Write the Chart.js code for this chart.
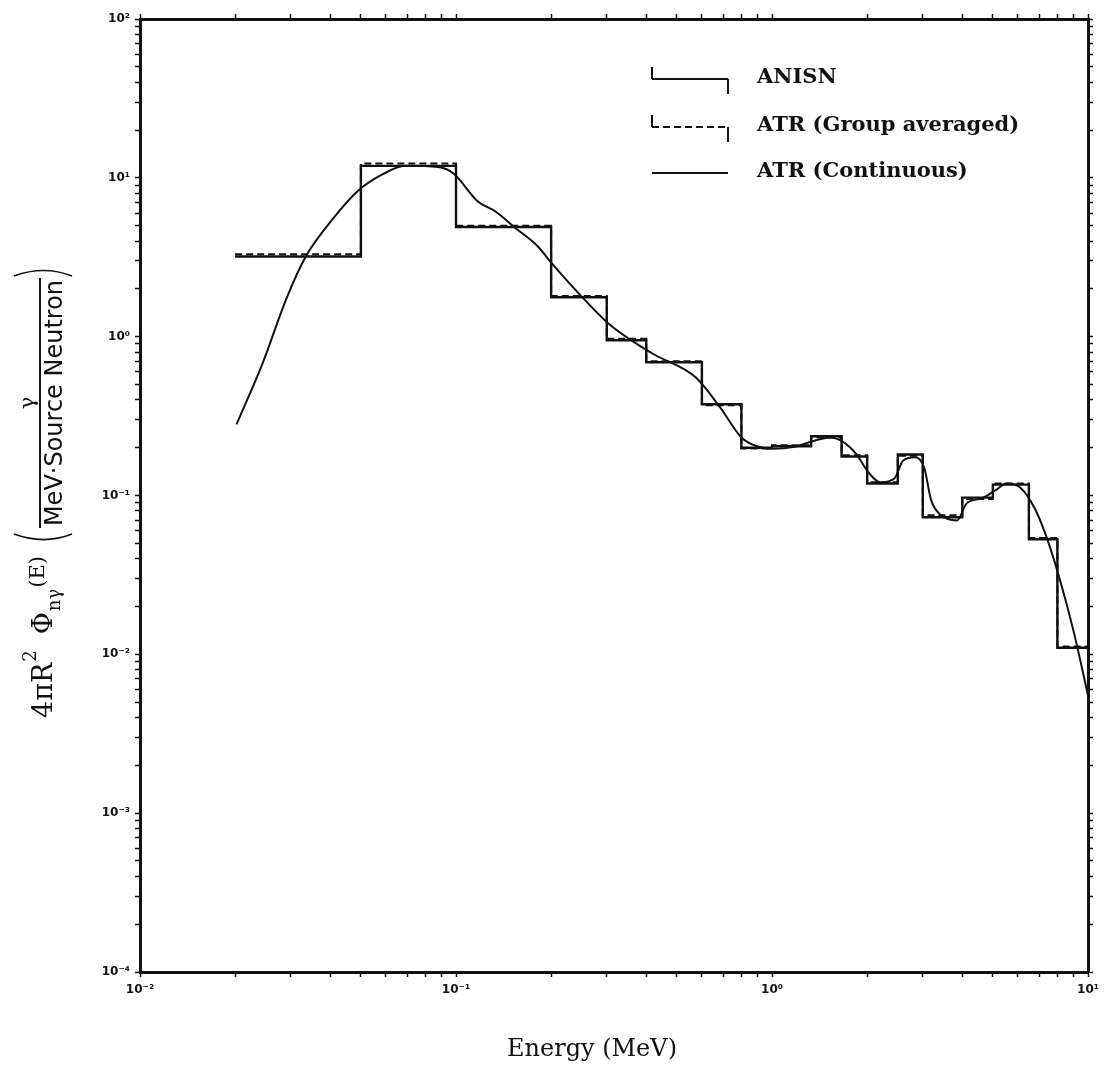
<!DOCTYPE html>
<html>
<head>
<meta charset="utf-8">
<title>Capture gamma spectrum</title>
<script src="https://cdn.jsdelivr.net/npm/chart.js@4.4.1/dist/chart.umd.min.js"></script>
<style>
  html, body { margin: 0; padding: 0; background: #fff; }
  #wrap { width: 1105px; height: 1081px; position: relative; }
</style>
</head>
<body>
<div id="wrap"><canvas id="spectrum"></canvas></div>
<script>
// group structure (MeV) and group fluxes
const groupEdges = [0.02, 0.05, 0.1, 0.2, 0.3, 0.4, 0.6, 0.8, 1.0, 1.33, 1.66, 2.0, 2.5, 3.0, 4.0, 5.0, 6.5, 8.0, 10.0];
const anisnFlux = [3.2, 11.9, 4.9, 1.77, 0.95, 0.69, 0.375, 0.20, 0.204, 0.236, 0.176, 0.119, 0.181, 0.073, 0.097, 0.117, 0.053, 0.011];
const atrGroupFlux = [3.3, 12.3, 5.0, 1.8, 0.97, 0.70, 0.37, 0.198, 0.207, 0.232, 0.179, 0.121, 0.178, 0.075, 0.095, 0.119, 0.054, 0.0112];

// ATR continuous spectrum
const contEnergy = [0.0202, 0.0245, 0.029, 0.0335, 0.0407, 0.0488, 0.0585, 0.0691, 0.0877, 0.098, 0.117, 0.133, 0.153, 0.181, 0.202, 0.249, 0.301, 0.366, 0.422, 0.573, 0.685, 0.80, 0.891, 1.007, 1.18, 1.37, 1.53, 1.65, 1.84, 2.03, 2.20, 2.44, 2.60, 2.84, 3.03, 3.19, 3.43, 3.85, 4.13, 4.61, 5.10, 5.52, 6.11, 6.76, 7.32, 8.11, 9.04, 10.0];
const contFlux = [0.28, 0.69, 1.72, 3.21, 5.5, 8.24, 10.5, 11.9, 11.7, 10.7, 7.13, 6.16, 4.89, 3.72, 2.86, 1.80, 1.23, 0.923, 0.775, 0.555, 0.359, 0.232, 0.205, 0.197, 0.203, 0.222, 0.232, 0.222, 0.184, 0.138, 0.121, 0.128, 0.166, 0.174, 0.150, 0.0931, 0.0750, 0.0697, 0.0892, 0.0959, 0.108, 0.119, 0.112, 0.0841, 0.0577, 0.0305, 0.0135, 0.0055];

// tick labels
const xExponents = [-2, -1, 0, 1];
const xTickLabels = ['10⁻²', '10⁻¹', '10⁰', '10¹'];
const yExponents = [-4, -3, -2, -1, 0, 1, 2];
const yTickLabels = ['10⁻⁴', '10⁻³', '10⁻²', '10⁻¹', '10⁰', '10¹', '10²'];

const ink = '#111';

function stepPoints(edges, vals) {
  return edges.map((e, i) => ({ x: e, y: vals[Math.min(i, vals.length - 1)] }));
}

function logTicks(exps) {
  const out = [];
  for (let e = exps[0]; e < exps[exps.length - 1]; e++) {
    for (let m = 1; m <= 9; m++) out.push({ value: m * Math.pow(10, e) });
  }
  out.push({ value: Math.pow(10, exps[exps.length - 1]) });
  return out;
}

function decadeLabel(v, exps, labels) {
  const l = Math.log10(v);
  if (Math.abs(l - Math.round(l)) > 1e-6) return '';
  const i = exps.indexOf(Math.round(l));
  return i >= 0 ? labels[i] : '';
}

// legend drawn inside the frame, step-shaped symbols for the histograms
const legendBox = {
  id: 'legendBox',
  afterDatasetsDraw(chart) {
    const ctx = chart.ctx;
    const x0 = 652, x1 = 728, tx = 757;
    const rows = [79, 127, 173];
    ctx.save();
    ctx.strokeStyle = ink;
    ctx.fillStyle = ink;
    ctx.lineWidth = 2;
    ctx.font = 'bold 21px "DejaVu Serif"';
    ctx.textBaseline = 'middle';
    chart.data.datasets.forEach((ds, i) => {
      const y = rows[i];
      if (ds.stepped) {
        ctx.setLineDash([]);
        ctx.beginPath();
        ctx.moveTo(x0, y - 12); ctx.lineTo(x0, y);
        ctx.moveTo(x1, y); ctx.lineTo(x1, y + 15);
        ctx.stroke();
      }
      ctx.setLineDash(ds.borderDash || []);
      ctx.beginPath();
      ctx.moveTo(x0, y); ctx.lineTo(x1, y);
      ctx.stroke();
      ctx.setLineDash([]);
      ctx.fillText(ds.label, tx, y - 1);
    });
    ctx.restore();
  }
};

// axis titles
const axisTitles = {
  id: 'axisTitles',
  afterDraw(chart) {
    const ctx = chart.ctx;
    ctx.save();
    ctx.fillStyle = ink;
    ctx.strokeStyle = ink;

    ctx.font = '24px "DejaVu Serif"';
    ctx.textAlign = 'center';
    ctx.textBaseline = 'middle';
    ctx.fillText('Energy (MeV)', 592, 1050);

    // rotated y title: 4πR² Φnγ(E) (γ / MeV·Source Neutron)
    ctx.translate(44, 718);
    ctx.rotate(-Math.PI / 2);
    ctx.textAlign = 'left';
    ctx.textBaseline = 'alphabetic';
    let x = 0;
    ctx.font = '27px "DejaVu Serif"';
    ctx.fillText('4πR', x, 8); x += ctx.measureText('4πR').width + 1;
    ctx.font = '18px "DejaVu Serif"';
    ctx.fillText('2', x, -8); x += ctx.measureText('2').width + 16;
    ctx.font = '27px "DejaVu Serif"';
    ctx.fillText('Φ', x, 8); x += ctx.measureText('Φ').width + 1;
    ctx.font = '18px "DejaVu Serif"';
    ctx.fillText('nγ', x, 16); x += ctx.measureText('nγ').width + 1;
    ctx.font = '21px "DejaVu Serif"';
    ctx.fillText('(E)', x, 0); x += ctx.measureText('(E)').width + 14;

    // big parentheses + fraction
    ctx.lineWidth = 1.6;
    ctx.beginPath();
    ctx.moveTo(x + 8, -30); ctx.quadraticCurveTo(x - 3, 0, x + 8, 28);
    ctx.stroke();
    x += 16;
    ctx.font = '24px "DejaVu Sans"';
    const den = 'MeV·Source Neutron';
    const dw = ctx.measureText(den).width;
    ctx.fillText(den, x, 18);
    ctx.lineWidth = 2;
    ctx.beginPath();
    ctx.moveTo(x - 2, -4); ctx.lineTo(x + dw + 2, -4);
    ctx.stroke();
    ctx.font = '21px "DejaVu Serif"';
    ctx.textAlign = 'center';
    ctx.fillText('γ', x + dw / 2, -10);
    x += dw + 6;
    ctx.lineWidth = 1.6;
    ctx.beginPath();
    ctx.moveTo(x - 2, -30); ctx.quadraticCurveTo(x + 9, 0, x - 2, 28);
    ctx.stroke();
    ctx.restore();
  }
};

const tickFont = { family: 'DejaVu Sans', size: 12, weight: 'bold' };

function frameGrid() {
  return { drawOnChartArea: false, drawTicks: true, tickLength: 5, tickColor: ink, tickWidth: 1.5, color: ink };
}

new Chart(document.getElementById('spectrum'), {
  type: 'line',
  data: {
    datasets: [
      {
        label: 'ANISN',
        data: stepPoints(groupEdges, anisnFlux),
        stepped: 'before',
        borderColor: ink,
        borderWidth: 2.4,
        pointRadius: 0,
        fill: false
      },
      {
        label: 'ATR (Group averaged)',
        data: stepPoints(groupEdges, atrGroupFlux),
        stepped: 'before',
        borderColor: ink,
        borderWidth: 2,
        borderDash: [7, 4],
        pointRadius: 0,
        fill: false
      },
      {
        label: 'ATR (Continuous)',
        data: contEnergy.map((e, i) => ({ x: e, y: contFlux[i] })),
        borderColor: ink,
        borderWidth: 2,
        cubicInterpolationMode: 'monotone',
        pointRadius: 0,
        fill: false
      }
    ]
  },
  options: {
    responsive: true,
    maintainAspectRatio: false,
    animation: false,
    layout: { padding: 0, autoPadding: false },
    plugins: {
      legend: { display: false },
      tooltip: { enabled: false }
    },
    scales: {
      x: {
        type: 'logarithmic',
        position: 'bottom',
        min: 0.01,
        max: 10,
        afterBuildTicks(s) { s.ticks = logTicks(xExponents); },
        afterFit(s) { s.height = 109; },
        grid: frameGrid(),
        border: { color: ink, width: 3 },
        ticks: {
          autoSkip: false,
          maxRotation: 0,
          color: ink,
          font: tickFont,
          padding: 6,
          callback: (v) => decadeLabel(v, xExponents, xTickLabels)
        }
      },
      x2: {
        type: 'logarithmic',
        position: 'top',
        min: 0.01,
        max: 10,
        afterBuildTicks(s) { s.ticks = logTicks(xExponents); },
        afterFit(s) { s.height = 19; },
        grid: frameGrid(),
        border: { color: ink, width: 3 },
        ticks: { display: false }
      },
      y: {
        type: 'logarithmic',
        position: 'left',
        min: 1e-4,
        max: 100,
        afterBuildTicks(s) { s.ticks = logTicks(yExponents); },
        afterFit(s) { s.width = 140; },
        grid: frameGrid(),
        border: { color: ink, width: 3 },
        ticks: {
          autoSkip: false,
          color: ink,
          font: tickFont,
          padding: 5,
          callback: (v) => decadeLabel(v, yExponents, yTickLabels)
        }
      },
      y2: {
        type: 'logarithmic',
        position: 'right',
        min: 1e-4,
        max: 100,
        afterBuildTicks(s) { s.ticks = logTicks(yExponents); },
        afterFit(s) { s.width = 10; },
        grid: frameGrid(),
        border: { color: ink, width: 3 },
        ticks: { display: false }
      }
    }
  },
  plugins: [legendBox, axisTitles]
});
</script>
</body>
</html>
